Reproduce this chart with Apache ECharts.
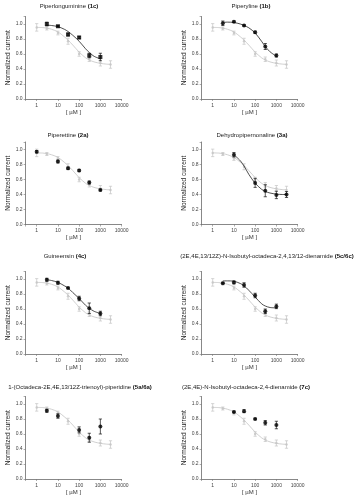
<!DOCTYPE html>
<html><head><meta charset="utf-8">
<script src="https://cdn.jsdelivr.net/npm/echarts@6/dist/echarts.min.js"></script>
<style>html,body{margin:0;padding:0;background:#fff}#c{width:355px;height:499px}</style>
</head><body><div id="c"></div>
<script>
// ---- data ----
const titles = [
  ['Piperlonguminine ', '(1c)'],
  ['Piperyline ', '(1b)'],
  ['Piperettine ', '(2a)'],
  ['Dehydropipernonaline ', '(3a)'],
  ['Guineensin ', '(4c)'],
  ['(2E,4E,13/12Z)-N-Isobutyl-octadeca-2,4,13/12-dienamide ', '(5c/6c)'],
  ['1-(Octadeca-2E,4E,13/12Z-trienoyl)-piperidine ', '(5a/6a)'],
  ['(2E,4E)-N-Isobutyl-octadeca-2,4-dienamide ', '(7c)']
];
const xTicks = [1, 10, 100, 1000, 10000];
const yTicks = [0.0, 0.2, 0.4, 0.6, 0.8, 1.0];
// reference (grey) series, same in every panel
const grayX = [1, 3, 10, 30, 100, 300, 1000, 3000];
const grayY = [0.955, 0.94, 0.88, 0.77, 0.60, 0.53, 0.48, 0.46];
const grayErr = [0.05, 0.02, 0.025, 0.04, 0.03, 0.03, 0.04, 0.05];
const grayFitX = [1, 2, 3, 5, 10, 20, 30, 50, 100, 200, 300, 500, 1000, 2000, 3000];
const grayFitY = [0.955, 0.952, 0.945, 0.93, 0.895, 0.83, 0.785, 0.72, 0.625, 0.55, 0.52, 0.495, 0.475, 0.465, 0.462];
// compound (black) series per panel
const p1X = [3, 10, 30, 100, 300, 1000], p1Y = [1.0, 0.97, 0.86, 0.82, 0.58, 0.56], p1E = [0.025, 0.01, 0.02, 0.015, 0.03, 0.05];
const p2X = [3, 10, 30, 100, 300, 1000], p2Y = [1.01, 1.03, 0.98, 0.89, 0.70, 0.58], p2E = [0.03, 0.01, 0.01, 0.015, 0.04, 0.02];
const p3X = [1, 10, 30, 100, 300, 1000], p3Y = [0.97, 0.84, 0.75, 0.72, 0.56, 0.46], p3E = [0.015, 0.02, 0.015, 0.015, 0.02, 0.01];
const p4X = [10, 100, 300, 1000, 3000], p4Y = [0.93, 0.555, 0.45, 0.395, 0.40], p4E = [0.03, 0.06, 0.08, 0.05, 0.04];
const p5X = [3, 10, 30, 100, 300, 1000], p5Y = [0.99, 0.95, 0.88, 0.74, 0.61, 0.54], p5E = [0.02, 0.02, 0.01, 0.03, 0.07, 0.03];
const p6X = [3, 10, 30, 100, 300, 1000], p6Y = [0.945, 0.955, 0.92, 0.78, 0.57, 0.635], p6E = [0.01, 0.02, 0.03, 0.03, 0.03, 0.03];
const p7X = [3, 10, 100, 300, 1000], p7Y = [0.91, 0.84, 0.655, 0.55, 0.70], p7E = [0.02, 0.03, 0.04, 0.06, 0.10];
const p8X = [10, 30, 100, 300, 1000], p8Y = [0.895, 0.905, 0.80, 0.75, 0.72], p8E = [0.01, 0.02, 0.01, 0.03, 0.05];
// fitted curves of the compound, null = no curve
const f1X = [3, 5, 10, 20, 30, 50, 100, 200, 300, 500, 1000], f1Y = [0.985, 0.98, 0.965, 0.93, 0.90, 0.85, 0.77, 0.67, 0.62, 0.57, 0.535];
const f2X = [3, 5, 10, 20, 30, 50, 100, 200, 300, 500, 1000], f2Y = [1.02, 1.025, 1.02, 1.0, 0.98, 0.95, 0.88, 0.77, 0.70, 0.63, 0.57];
const f4X = [10, 20, 30, 50, 100, 200, 300, 500, 1000, 2000, 3000], f4Y = [0.93, 0.85, 0.78, 0.67, 0.55, 0.47, 0.44, 0.42, 0.405, 0.40, 0.40];
const f5X = [3, 5, 10, 20, 30, 50, 100, 200, 300, 500, 1000], f5Y = [0.99, 0.98, 0.955, 0.91, 0.88, 0.82, 0.74, 0.65, 0.61, 0.57, 0.54];
const f6X = [3, 5, 10, 20, 30, 50, 100, 200, 300, 500, 1000], f6Y = [0.975, 0.975, 0.97, 0.94, 0.91, 0.85, 0.76, 0.67, 0.64, 0.62, 0.615];

const panels = [
  {x: p1X, y: p1Y, e: p1E, fx: f1X, fy: f1Y, sym: 'rect'},
  {x: p2X, y: p2Y, e: p2E, fx: f2X, fy: f2Y, sym: 'circle'},
  {x: p3X, y: p3Y, e: p3E, fx: null, fy: null, sym: 'circle'},
  {x: p4X, y: p4Y, e: p4E, fx: f4X, fy: f4Y, sym: 'circle'},
  {x: p5X, y: p5Y, e: p5E, fx: f5X, fy: f5Y, sym: 'circle'},
  {x: p6X, y: p6Y, e: p6E, fx: f6X, fy: f6Y, sym: 'circle'},
  {x: p7X, y: p7Y, e: p7E, fx: null, fy: null, sym: 'circle'},
  {x: p8X, y: p8Y, e: p8E, fx: null, fy: null, sym: 'circle'}
];

// ---- layout ----
const colLeft = [25.6, 201.6];
const rowTop = [16.5, 142, 271.5, 396.5];
const gridW = 96, gridH = 82.5;
const titlePos = [[69, 6], [251, 6], [68, 135], [252, 135], [65, 256], [267, 256], [80, 387], [246, 387]];
const FONT = 'Liberation Sans, Arial, sans-serif';
const GRAY = '#c4c4c4';

function errRender(params, api) {
  const x = api.value(0), lo = api.value(1), hi = api.value(2);
  const a = api.coord([x, hi]), b = api.coord([x, lo]);
  const w = 1.6;
  const style = {stroke: api.visual('color'), lineWidth: 0.7};
  return {type: 'group', children: [
    {type: 'line', shape: {x1: a[0], y1: a[1], x2: b[0], y2: b[1]}, style},
    {type: 'line', shape: {x1: a[0] - w, y1: a[1], x2: a[0] + w, y2: a[1]}, style},
    {type: 'line', shape: {x1: b[0] - w, y1: b[1], x2: b[0] + w, y2: b[1]}, style}
  ]};
}
function isPow10(v) {
  const l = Math.log10(v);
  return v >= 0.99 && Math.abs(l - Math.round(l)) < 1e-6;
}

const grid = [], xAxis = [], yAxis = [], series = [], graphic = [];
panels.forEach((p, i) => {
  const r = Math.floor(i / 2), c = i % 2;
  grid.push({left: colLeft[c], top: rowTop[r], width: gridW, height: gridH});
  xAxis.push({
    gridIndex: i, type: 'log', logBase: 10, min: 0.3, max: 10000,
    name: '[ µM ]', nameLocation: 'middle', nameGap: 10,
    nameTextStyle: {fontSize: 6, fontFamily: FONT, color: '#333'},
    axisLine: {lineStyle: {color: '#555', width: 0.7}},
    axisTick: {show: true, length: 2, lineStyle: {color: '#777', width: 0.6}},
    splitLine: {show: false},
    axisLabel: {fontSize: 5, fontFamily: FONT, color: '#444', margin: 4,
      formatter: v => isPow10(v) ? String(Math.round(v)) : ''}
  });
  yAxis.push({
    gridIndex: i, type: 'value', min: 0, max: 1.1, interval: 0.2,
    name: 'Normalized current', nameLocation: 'middle', nameGap: 14,
    nameTextStyle: {fontSize: 6.5, fontFamily: FONT, color: '#222'},
    axisLine: {show: true, lineStyle: {color: '#555', width: 0.7}},
    axisTick: {show: true, length: 2, lineStyle: {color: '#777', width: 0.6}},
    splitLine: {show: false},
    axisLabel: {fontSize: 5, fontFamily: FONT, color: '#444', margin: 3,
      formatter: v => v <= 1.0001 ? v.toFixed(1) : ''}
  });
  // grey reference
  series.push({type: 'line', xAxisIndex: i, yAxisIndex: i, smooth: 0.3, symbol: 'none', silent: true,
    lineStyle: {color: GRAY, width: 0.8}, data: grayFitX.map((x, k) => [x, grayFitY[k]]), z: 1});
  series.push({type: 'custom', xAxisIndex: i, yAxisIndex: i, renderItem: errRender, itemStyle: {color: GRAY},
    encode: {x: 0, y: [1, 2]}, data: grayX.map((x, k) => [x, grayY[k] - grayErr[k], grayY[k] + grayErr[k]]), z: 1});
  series.push({type: 'scatter', xAxisIndex: i, yAxisIndex: i, symbol: 'circle', symbolSize: 2.5,
    itemStyle: {color: GRAY}, data: grayX.map((x, k) => [x, grayY[k]]), z: 2});
  // compound
  if (p.fx) {
    series.push({type: 'line', xAxisIndex: i, yAxisIndex: i, smooth: 0.3, symbol: 'none', silent: true,
      lineStyle: {color: '#222', width: 0.8}, data: p.fx.map((x, k) => [x, p.fy[k]]), z: 3});
  }
  series.push({type: 'custom', xAxisIndex: i, yAxisIndex: i, renderItem: errRender, itemStyle: {color: '#111'},
    encode: {x: 0, y: [1, 2]}, data: p.x.map((x, k) => [x, p.y[k] - p.e[k], p.y[k] + p.e[k]]), z: 4});
  series.push({type: 'scatter', xAxisIndex: i, yAxisIndex: i, symbol: p.sym, symbolSize: 4,
    itemStyle: {color: '#000'}, data: p.x.map((x, k) => [x, p.y[k]]), z: 5});
  graphic.push({type: 'text', x: titlePos[i][0], y: titlePos[i][1], silent: true,
    style: {text: titles[i][0] + '{b|' + titles[i][1] + '}', fontSize: 6, fontFamily: FONT, fill: '#222',
      textAlign: 'center', textVerticalAlign: 'middle',
      rich: {b: {fontSize: 6, fontWeight: 'bold', fontFamily: FONT, fill: '#111'}}}});
});

const chart = echarts.init(document.getElementById('c'), null, {renderer: 'canvas'});
chart.setOption({animation: false, backgroundColor: '#fff', grid, xAxis, yAxis, series, graphic});
</script></body></html>
